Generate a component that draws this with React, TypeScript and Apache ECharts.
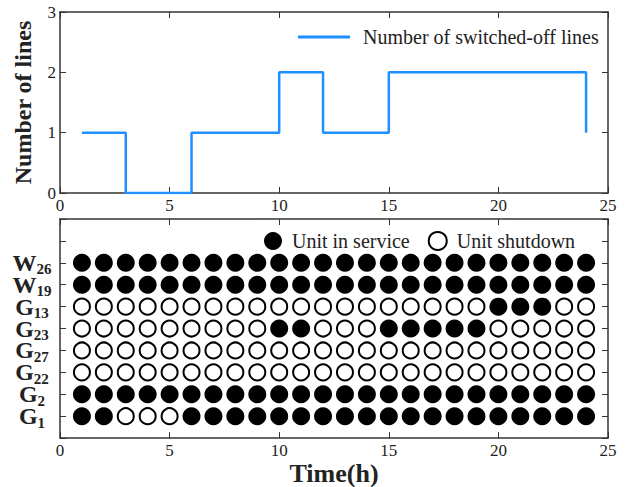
import { useEffect, useRef } from 'react';
import * as echarts from 'echarts';

const hours = [1, 2, 3, 4, 5, 6, 7, 8, 9, 10, 11, 12, 13, 14, 15, 16, 17, 18, 19, 20, 21, 22, 23, 24];
const switchedOffLines = [1, 1, 0, 0, 0, 1, 1, 1, 1, 2, 2, 1, 1, 1, 2, 2, 2, 2, 2, 2, 2, 2, 2, 1];

const unitNames = ['G1', 'G2', 'G22', 'G27', 'G23', 'G13', 'W19', 'W26'];
const G1 = [1, 1, 0, 0, 0, 1, 1, 1, 1, 1, 1, 1, 1, 1, 1, 1, 1, 1, 1, 1, 1, 1, 1, 1];
const G2 = [1, 1, 1, 1, 1, 1, 1, 1, 1, 1, 1, 1, 1, 1, 1, 1, 1, 1, 1, 1, 1, 1, 1, 1];
const G22 = [0, 0, 0, 0, 0, 0, 0, 0, 0, 0, 0, 0, 0, 0, 0, 0, 0, 0, 0, 0, 0, 0, 0, 0];
const G27 = [0, 0, 0, 0, 0, 0, 0, 0, 0, 0, 0, 0, 0, 0, 0, 0, 0, 0, 0, 0, 0, 0, 0, 0];
const G23 = [0, 0, 0, 0, 0, 0, 0, 0, 0, 1, 1, 0, 0, 0, 1, 1, 1, 1, 1, 0, 0, 0, 0, 0];
const G13 = [0, 0, 0, 0, 0, 0, 0, 0, 0, 0, 0, 0, 0, 0, 0, 0, 0, 0, 0, 1, 1, 1, 0, 0];
const W19 = [1, 1, 1, 1, 1, 1, 1, 1, 1, 1, 1, 1, 1, 1, 1, 1, 1, 1, 1, 1, 1, 1, 1, 1];
const W26 = [1, 1, 1, 1, 1, 1, 1, 1, 1, 1, 1, 1, 1, 1, 1, 1, 1, 1, 1, 1, 1, 1, 1, 1];
const unitStatus = [G1, G2, G22, G27, G23, G13, W19, W26];

const FONT = "'Liberation Serif', 'Times New Roman', serif";
const AXIS_COLOR = '#333';
const TEXT_COLOR = '#222';

export default function App() {
  const ref = useRef<HTMLDivElement>(null);

  useEffect(() => {
    if (!ref.current) return;
    const chart = echarts.init(ref.current, undefined, { renderer: 'svg' });

    const inService: number[][] = [];
    const shutdown: number[][] = [];
    unitStatus.forEach((row, r) => {
      row.forEach((s, i) => {
        (s ? inService : shutdown).push([hours[i], r + 1]);
      });
    });

    const axisLine = { show: true, onZero: false, lineStyle: { color: AXIS_COLOR, width: 1.5 } };
    const tick = { show: true, inside: true, length: 6, lineStyle: { color: AXIS_COLOR, width: 1 } };
    const label = { fontFamily: FONT, fontSize: 17, color: TEXT_COLOR };

    const mkX = (gridIndex: number, position: 'bottom' | 'top', extra: any = {}) => ({
      type: 'value',
      gridIndex,
      position,
      min: 0,
      max: 25,
      interval: 5,
      axisLine,
      axisTick: tick,
      axisLabel: position === 'bottom' ? { ...label, margin: 4 } : { show: false },
      splitLine: { show: false },
      ...extra,
    });

    const option: any = {
      animation: false,
      backgroundColor: '#fff',
      grid: [
        { left: 60, right: 19, top: 12, height: 181 },
        { left: 60, right: 19, top: 219, height: 224 },
      ],
      legend: [
        {
          data: ['Number of switched-off lines'],
          left: 293,
          top: 22,
          icon: 'rect',
          itemWidth: 52,
          itemHeight: 3,
          itemGap: 10,
          textStyle: { fontFamily: FONT, fontSize: 20, color: TEXT_COLOR, padding: [0, 0, 0, 8] },
        },
        {
          data: ['Unit in service', 'Unit shutdown'],
          left: 259,
          top: 226,
          icon: 'circle',
          itemWidth: 18,
          itemHeight: 18,
          itemGap: 18,
          textStyle: { fontFamily: FONT, fontSize: 20, color: TEXT_COLOR, padding: [0, 0, 0, 5] },
        },
      ],
      xAxis: [
        mkX(0, 'bottom'),
        mkX(0, 'top'),
        mkX(1, 'bottom', {
          name: 'Time(h)',
          nameLocation: 'middle',
          nameGap: 8,
          nameTextStyle: { fontFamily: FONT, fontSize: 26, fontWeight: 'bold', color: TEXT_COLOR },
        }),
        mkX(1, 'top'),
      ],
      yAxis: [
        {
          type: 'value',
          gridIndex: 0,
          position: 'left',
          min: 0,
          max: 3,
          interval: 1,
          axisLine,
          axisTick: tick,
          axisLabel: { ...label, margin: 4 },
          splitLine: { show: false },
          name: 'Number of lines',
          nameLocation: 'middle',
          nameGap: 25,
          nameTextStyle: { fontFamily: FONT, fontSize: 24, fontWeight: 'bold', color: TEXT_COLOR },
        },
        {
          type: 'value',
          gridIndex: 0,
          position: 'right',
          min: 0,
          max: 3,
          interval: 1,
          axisLine,
          axisTick: tick,
          axisLabel: { show: false },
          splitLine: { show: false },
        },
        {
          type: 'value',
          gridIndex: 1,
          position: 'left',
          min: 0,
          max: 10,
          interval: 1,
          axisLine,
          axisTick: tick,
          axisLabel: {
            margin: 28,
            align: 'center',
            formatter: (v: number) => {
              const n = unitNames[v - 1];
              if (!n) return '';
              return `{g|${n[0]}}{s|${n.slice(1)}}`;
            },
            rich: {
              g: { fontFamily: FONT, fontSize: 24, fontWeight: 'bold', color: TEXT_COLOR, verticalAlign: 'middle', lineHeight: 28 },
              s: { fontFamily: FONT, fontSize: 15, fontWeight: 'bold', color: TEXT_COLOR, verticalAlign: 'bottom' },
            },
          },
          splitLine: { show: false },
        },
        {
          type: 'value',
          gridIndex: 1,
          position: 'right',
          min: 0,
          max: 10,
          interval: 1,
          axisLine,
          axisTick: tick,
          axisLabel: { show: false },
          splitLine: { show: false },
        },
      ],
      series: [
        {
          name: 'Number of switched-off lines',
          type: 'line',
          xAxisIndex: 0,
          yAxisIndex: 0,
          step: 'end',
          symbol: 'none',
          data: hours.map((h, i) => [h, switchedOffLines[i]]),
          lineStyle: { color: '#1E90FF', width: 2.5 },
          itemStyle: { color: '#1E90FF' },
        },
        {
          name: 'Unit in service',
          type: 'scatter',
          xAxisIndex: 2,
          yAxisIndex: 2,
          symbol: 'circle',
          symbolSize: 18,
          data: inService,
          itemStyle: { color: '#000', borderColor: '#000', borderWidth: 0, opacity: 1 },
        },
        {
          name: 'Unit shutdown',
          type: 'scatter',
          xAxisIndex: 2,
          yAxisIndex: 2,
          symbol: 'circle',
          symbolSize: 16,
          data: shutdown,
          itemStyle: { color: '#fff', borderColor: '#000', borderWidth: 2, opacity: 1 },
        },
      ],
    };

    chart.setOption(option);
    return () => chart.dispose();
  }, []);

  return <div ref={ref} style={{ position: 'fixed', left: 0, top: 0, width: 627, height: 487 }} />;
}
